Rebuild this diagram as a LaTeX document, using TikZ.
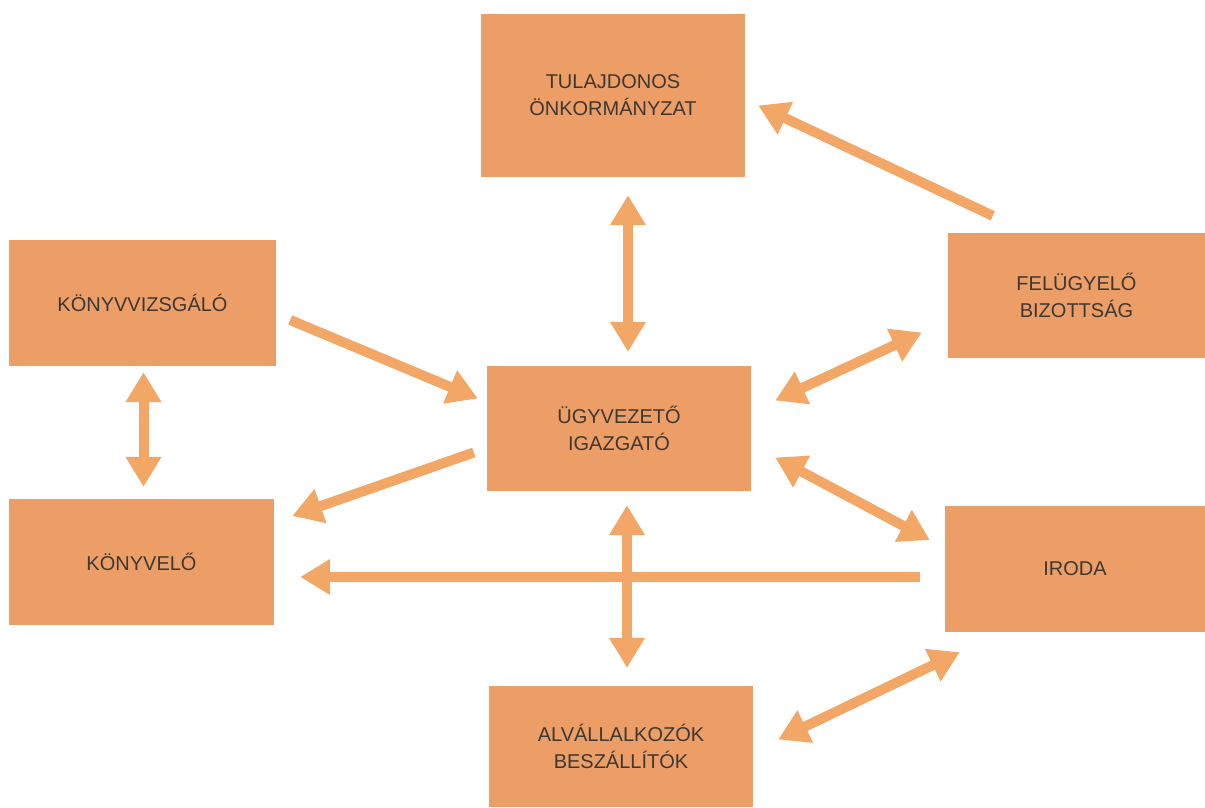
\documentclass[tikz,border=0pt]{standalone}
\usepackage{fontspec}
\setmainfont{Liberation Sans}
\usetikzlibrary{arrows.meta,calc}
\definecolor{boxc}{RGB}{236,158,102}
\definecolor{arrc}{RGB}{243,167,103}
\definecolor{txtc}{RGB}{62,56,52}
\begin{document}
\begin{tikzpicture}[x=1pt,y=1pt,
box/.style={fill=boxc,text=txtc,align=center,inner sep=0pt,minimum width=264pt,minimum height=125pt,font=\fontsize{20}{27}\selectfont},
con/.style={draw=arrc,line width=10pt,-{Triangle[length=30pt,width=34pt]}},
dbl/.style={con,{Triangle[length=30pt,width=34pt]}-{Triangle[length=30pt,width=34pt]}}]
\useasboundingbox (0,0) rectangle (1205,807);
\node[box,minimum height=163pt] (tul) at (613,711.5) {TULAJDONOS\\ÖNKORMÁNYZAT};
\node[box,minimum width=267pt,minimum height=126pt] (kvizs) at (142.5,504) {KÖNYVVIZSGÁLÓ};
\node[box,minimum width=257pt] (felu) at (1076.5,511.5) {FELÜGYELŐ\\BIZOTTSÁG};
\node[box] (ugy) at (619,378.5) {ÜGYVEZETŐ\\IGAZGATÓ};
\node[box,minimum width=265pt,minimum height=126pt] (konyv) at (141.5,245) {KÖNYVELŐ};
\node[box,minimum width=260pt,minimum height=126pt] (iroda) at (1075,238) {IRODA};
\node[box,minimum height=121pt] (alv) at (621,60.5) {ALVÁLLALKOZÓK\\BESZÁLLÍTÓK};

\draw[dbl,shorten <=18pt,shorten >=14pt]([xshift=15pt]tul.south)--([xshift=9pt]ugy.north);
\draw[con]($(felu.north west)+(45,17)$)--($(tul.east)+(13,-10)$);
\draw[con]($(kvizs.east)+(14,-17)$)--($(ugy.west)+(-9,30)$);
\draw[dbl,shorten <=6pt,shorten >=12pt]([xshift=1pt]kvizs.south)--([xshift=2pt]konyv.north);
\draw[con]($(ugy.west)+(-13,-24)$)--($(konyv.east)+(18,46)$);
\draw[dbl]($(ugy.east)+(24,28)$)--($(felu.west)+(-26,-37)$);
\draw[dbl]($(ugy.east)+(24,-29)$)--($(iroda.west)+(-15,29)$);
\draw[con]($(iroda.west)+(-25,-8)$)--($(konyv.east)+(26,-15)$);
\draw[dbl,shorten <=14pt,shorten >=18pt]([xshift=8pt]ugy.south)--([xshift=6pt]alv.north);
\draw[dbl]($(iroda.south west)+(15,-20)$)--($(alv.east)+(25,7)$);
\end{tikzpicture}
\end{document}
